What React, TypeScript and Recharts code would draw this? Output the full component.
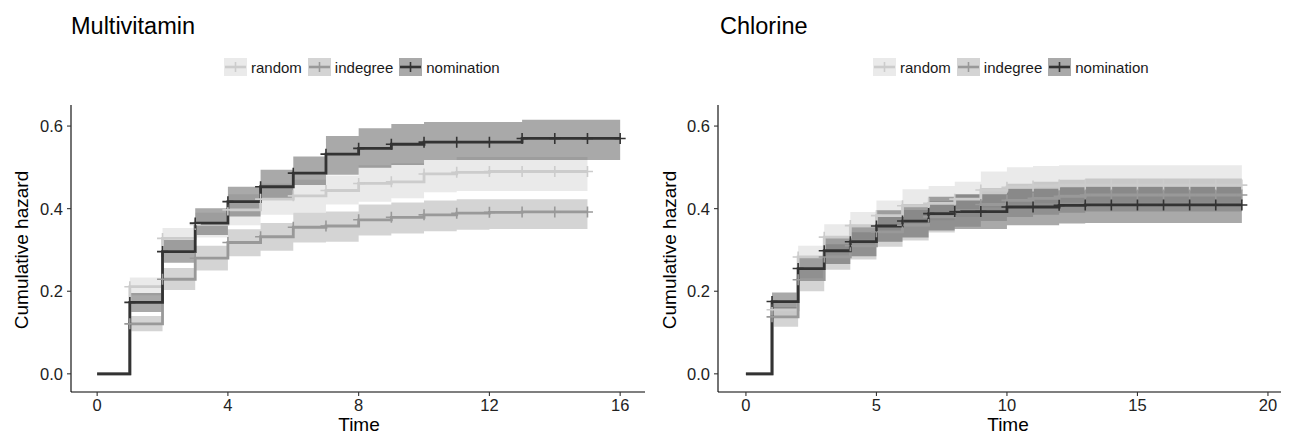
import React from "react";
import { ComposedChart, Area, Line, XAxis, YAxis } from "recharts";

// Multivitamin panel (time 0..16)
const mvTime = [0, 1, 2, 3, 4, 5, 6, 7, 8, 9, 10, 11, 12, 13, 14, 15, 16];
const mvRandom = [0, 0.211, 0.328, 0.362, 0.397, 0.423, 0.431, 0.444, 0.461, 0.465, 0.484, 0.488, 0.49, 0.49, 0.49, 0.49];
const mvRandomLo = [0, 0.19, 0.3, 0.33, 0.36, 0.385, 0.39, 0.41, 0.417, 0.425, 0.44, 0.443, 0.443, 0.443, 0.443, 0.443];
const mvRandomHi = [0, 0.233, 0.353, 0.39, 0.435, 0.46, 0.47, 0.48, 0.505, 0.51, 0.518, 0.525, 0.525, 0.525, 0.525, 0.525];
const mvIndegree = [0, 0.121, 0.229, 0.28, 0.318, 0.332, 0.355, 0.358, 0.373, 0.379, 0.385, 0.389, 0.391, 0.392, 0.392, 0.392];
const mvIndegreeLo = [0, 0.103, 0.203, 0.25, 0.285, 0.298, 0.318, 0.32, 0.335, 0.34, 0.345, 0.349, 0.351, 0.351, 0.351, 0.351];
const mvIndegreeHi = [0, 0.14, 0.256, 0.31, 0.35, 0.365, 0.39, 0.393, 0.41, 0.415, 0.42, 0.423, 0.423, 0.423, 0.423, 0.423];
const mvNomination = [0, 0.173, 0.296, 0.365, 0.417, 0.453, 0.486, 0.532, 0.546, 0.556, 0.561, 0.561, 0.561, 0.57, 0.57, 0.57, 0.57];
const mvNominationLo = [0, 0.15, 0.269, 0.336, 0.381, 0.421, 0.457, 0.482, 0.499, 0.506, 0.518, 0.518, 0.518, 0.518, 0.518, 0.518, 0.518];
const mvNominationHi = [0, 0.196, 0.324, 0.401, 0.453, 0.494, 0.526, 0.576, 0.595, 0.605, 0.61, 0.61, 0.61, 0.615, 0.615, 0.615, 0.615];

// Chlorine panel (time 0..19)
const clTime = [0, 1, 2, 3, 4, 5, 6, 7, 8, 9, 10, 11, 12, 13, 14, 15, 16, 17, 18, 19];
const clRandom = [0, 0.155, 0.283, 0.331, 0.359, 0.383, 0.407, 0.413, 0.423, 0.445, 0.452, 0.455, 0.457, 0.457, 0.457, 0.457, 0.457, 0.457, 0.457, 0.457];
const clRandomLo = [0, 0.135, 0.255, 0.3, 0.325, 0.345, 0.367, 0.372, 0.38, 0.403, 0.41, 0.413, 0.415, 0.415, 0.415, 0.415, 0.415, 0.415, 0.415, 0.415];
const clRandomHi = [0, 0.178, 0.31, 0.362, 0.392, 0.42, 0.447, 0.455, 0.465, 0.49, 0.5, 0.503, 0.505, 0.505, 0.505, 0.505, 0.505, 0.505, 0.505, 0.505];
const clIndegree = [0, 0.138, 0.228, 0.283, 0.31, 0.344, 0.36, 0.38, 0.395, 0.41, 0.42, 0.425, 0.43, 0.433, 0.433, 0.433, 0.433, 0.433, 0.433, 0.433];
const clIndegreeLo = [0, 0.114, 0.2, 0.252, 0.277, 0.308, 0.323, 0.342, 0.356, 0.37, 0.38, 0.385, 0.39, 0.393, 0.393, 0.393, 0.393, 0.393, 0.393, 0.393];
const clIndegreeHi = [0, 0.162, 0.256, 0.314, 0.343, 0.38, 0.397, 0.418, 0.434, 0.45, 0.46, 0.465, 0.47, 0.473, 0.473, 0.473, 0.473, 0.473, 0.473, 0.473];
const clNomination = [0, 0.175, 0.255, 0.298, 0.32, 0.358, 0.37, 0.388, 0.393, 0.393, 0.404, 0.404, 0.408, 0.409, 0.409, 0.409, 0.409, 0.409, 0.409, 0.409];
const clNominationLo = [0, 0.153, 0.227, 0.266, 0.285, 0.32, 0.33, 0.347, 0.351, 0.351, 0.36, 0.36, 0.364, 0.365, 0.365, 0.365, 0.365, 0.365, 0.365, 0.365];
const clNominationHi = [0, 0.197, 0.283, 0.33, 0.355, 0.396, 0.41, 0.429, 0.435, 0.435, 0.448, 0.448, 0.452, 0.453, 0.453, 0.453, 0.453, 0.453, 0.453, 0.453];

const groups = ["random", "indegree", "nomination"];
const groupColors = ["#cccccc", "#999999", "#333333"];

const FONT = '"Liberation Sans", Arial, Helvetica, sans-serif';

function buildRows(time: number[], series: number[][][]) {
  return time.map((t, i) => {
    const row: any = { t };
    series.forEach(([v, lo, hi], k) => {
      if (v[i] !== undefined) {
        row[groups[k]] = v[i];
        row[groups[k] + "Band"] = [lo[i], hi[i]];
      }
    });
    return row;
  });
}

const mvRows = buildRows(mvTime, [
  [mvRandom, mvRandomLo, mvRandomHi],
  [mvIndegree, mvIndegreeLo, mvIndegreeHi],
  [mvNomination, mvNominationLo, mvNominationHi],
]);
const clRows = buildRows(clTime, [
  [clRandom, clRandomLo, clRandomHi],
  [clIndegree, clIndegreeLo, clIndegreeHi],
  [clNomination, clNominationLo, clNominationHi],
]);

const plusDot = (color: string) => (props: any) => {
  const { cx, cy, index, payload } = props;
  if (!payload || payload.t === 0 || cy == null || isNaN(cy)) return <g key={index} />;
  return (
    <path key={index} d={`M${cx - 5.5},${cy}h11M${cx},${cy - 5.5}v11`} stroke={color} strokeWidth={1.6} fill="none" />
  );
};

function Legend({ left }: { left: number }) {
  return (
    <div style={{ position: "absolute", left, top: 58, display: "flex", alignItems: "center", fontFamily: FONT, fontSize: 15, color: "#1a1a1a" }}>
      {groups.map((g, k) => (
        <div key={g} style={{ display: "flex", alignItems: "center", marginRight: 6 }}>
          <svg width={23} height={18} style={{ marginRight: 4 }}>
            <rect x={0} y={0} width={23} height={18} fill={groupColors[k]} fillOpacity={0.42} />
            <line x1={1} y1={9} x2={22} y2={9} stroke={groupColors[k]} strokeWidth={2.6} />
            <line x1={11.5} y1={4} x2={11.5} y2={14} stroke={groupColors[k]} strokeWidth={1.6} />
          </svg>
          <span>{g}</span>
        </div>
      ))}
    </div>
  );
}

function Panel({ rows, left, width, marginRight, xDomain, xTicks }: any) {
  return (
    <div style={{ position: "absolute", left, top: 0 }}>
      <ComposedChart width={width} height={435} data={rows} margin={{ top: 105, right: marginRight, bottom: 13, left: 21 }}>
        <XAxis
          type="number"
          dataKey="t"
          domain={xDomain}
          ticks={xTicks}
          allowDataOverflow
          tickSize={4}
          tickMargin={3}
          height={30}
          stroke="#000"
          strokeWidth={1.1}
          tick={{ fill: "#222", fontSize: 16.5, fontFamily: FONT }}
          tickLine={{ stroke: "#333" }}
        />
        <YAxis
          type="number"
          domain={[-0.044, 0.651]}
          ticks={[0, 0.2, 0.4, 0.6]}
          allowDataOverflow
          tickFormatter={(v: number) => v.toFixed(1)}
          width={50}
          tickSize={4}
          tickMargin={4}
          stroke="#000"
          strokeWidth={1.1}
          tick={{ fill: "#222", fontSize: 16.5, fontFamily: FONT }}
          tickLine={{ stroke: "#333" }}
        />
        {groups.map((g, k) => (
          <Area
            key={g + "b"}
            type="stepAfter"
            dataKey={g + "Band"}
            stroke="none"
            fill={groupColors[k]}
            fillOpacity={0.42}
            isAnimationActive={false}
            activeDot={false}
          />
        ))}
        {groups.map((g, k) => (
          <Line
            key={g}
            type="stepAfter"
            dataKey={g}
            stroke={groupColors[k]}
            strokeWidth={2.8}
            dot={plusDot(groupColors[k])}
            activeDot={false}
            isAnimationActive={false}
          />
        ))}
      </ComposedChart>
    </div>
  );
}

const textBase: any = { position: "absolute", fontFamily: FONT, color: "#000", whiteSpace: "nowrap" };

export default function App() {
  return (
    <div style={{ position: "absolute", left: 0, top: 0, width: 1289, height: 435, background: "#fff", overflow: "hidden" }}>
      <Panel rows={mvRows} left={0} width={660} marginRight={15} xDomain={[-0.8, 16.76]} xTicks={[0, 4, 8, 12, 16]} />
      <Panel rows={clRows} left={647} width={642} marginRight={8} xDomain={[-1.07, 20.5]} xTicks={[0, 5, 10, 15, 20]} />

      <div style={{ ...textBase, left: 71, top: 13, fontSize: 23.5 }}>Multivitamin</div>
      <div style={{ ...textBase, left: 720, top: 13, fontSize: 23.5 }}>Chlorine</div>

      <Legend left={224} />
      <Legend left={873} />

      <div style={{ ...textBase, left: 22, top: 250, fontSize: 19, transform: "translate(-50%, -50%) rotate(-90deg)" }}>Cumulative hazard</div>
      <div style={{ ...textBase, left: 670, top: 250, fontSize: 19, transform: "translate(-50%, -50%) rotate(-90deg)" }}>Cumulative hazard</div>

      <div style={{ ...textBase, left: 359, top: 425, fontSize: 19, transform: "translate(-50%, -50%)" }}>Time</div>
      <div style={{ ...textBase, left: 1008, top: 425, fontSize: 19, transform: "translate(-50%, -50%)" }}>Time</div>
    </div>
  );
}
